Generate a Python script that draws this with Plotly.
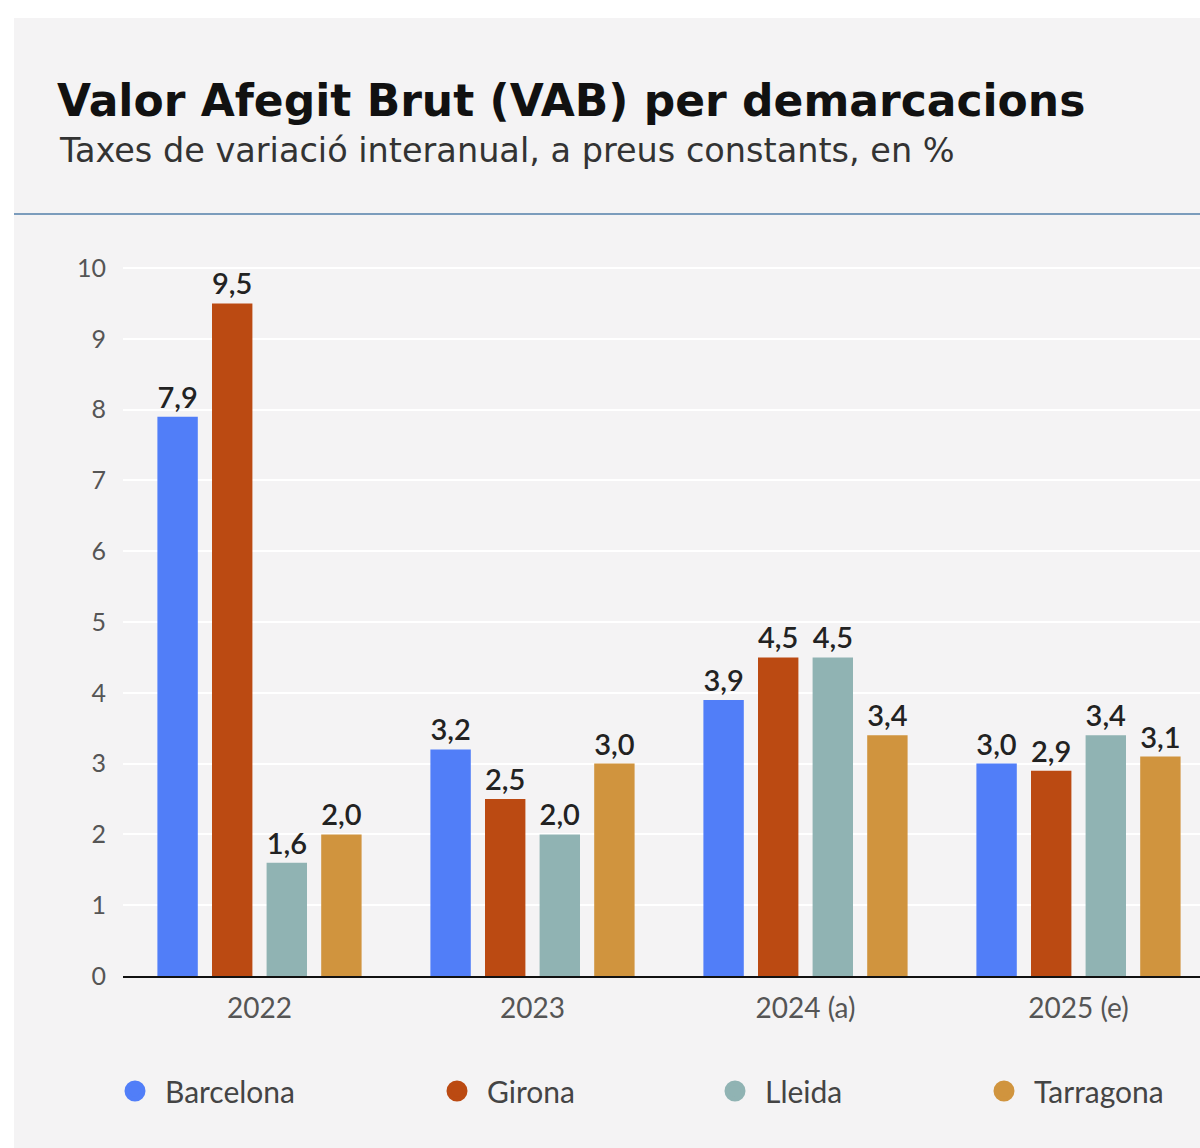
import plotly.graph_objects as go

# ---- data ----
categories = ["2022", "2023", "2024 (a)", "2025 (e)"]
barcelona = [7.9, 3.2, 3.9, 3.0]
girona = [9.5, 2.5, 4.5, 2.9]
lleida = [1.6, 2.0, 4.5, 3.4]
tarragona = [2.0, 3.0, 3.4, 3.1]
series_names = ["Barcelona", "Girona", "Lleida", "Tarragona"]
y_ticks = [0, 1, 2, 3, 4, 5, 6, 7, 8, 9, 10]

title_text = "Valor Afegit Brut (VAB) per demarcacions"
subtitle_text = "Taxes de variació interanual, a preus constants, en %"

# ---- style ----
colors = ["#517ef8", "#bb4a12", "#90b3b3", "#d0943e"]
FONT = "Lato"
TFONT = "DejaVu Sans"
BG = "#f4f3f4"

W, H = 1200, 1148
ML, MR, MT, MB = 123, 0, 240, 172
PW = W - ML - MR
PH = H - MT - MB

fig = go.Figure()
values = [barcelona, girona, lleida, tarragona]
legend_ids = ["legend", "legend2", "legend3", "legend4"]

for name, vals, col in zip(series_names, values, colors):
    fig.add_trace(go.Bar(
        x=categories, y=vals, name=name,
        marker=dict(color=col, line=dict(width=0)),
        texttemplate="%{y:.1f}", textposition="outside",
        textfont=dict(family=FONT, size=29, color="#222222", weight=600),
        constraintext="none", cliponaxis=False,
        showlegend=False, hoverinfo="skip",
    ))

# legend entries (circle symbols)
for name, col, lid in zip(series_names, colors, legend_ids):
    fig.add_trace(go.Scatter(
        x=[None], y=[None], mode="markers", name=name,
        marker=dict(symbol="circle", size=16, color=col,
                    line=dict(color=col, width=5)),
        showlegend=True, legend=lid, hoverinfo="skip",
    ))

def px_x(px):
    return (px - ML) / PW

def px_y(py):
    return (H - MB - py) / PH

legend_left_px = [105, 427, 705, 974]
legend_common = dict(
    orientation="h", yanchor="middle", xanchor="left",
    bgcolor="rgba(0,0,0,0)", borderwidth=0, itemwidth=50,
    font=dict(family=FONT, size=30, color="#444444"),
)
layout_legends = {}
for lid, lx in zip(legend_ids, legend_left_px):
    layout_legends[lid] = dict(legend_common, x=px_x(lx), y=px_y(1091))

fig.update_layout(
    width=W, height=H,
    margin=dict(l=ML, r=MR, t=MT, b=MB, pad=0),
    paper_bgcolor="white",
    plot_bgcolor="rgba(0,0,0,0)",
    separators=", ",
    barmode="group",
    bargap=0.2,
    bargroupgap=0.26,
    font=dict(family=FONT),
    title=dict(
        text="<b>" + title_text + "</b>",
        font=dict(family=TFONT, size=44, color="#111111"),
        xref="container", x=57 / W, xanchor="left",
        yref="container", y=1 - 101 / H, yanchor="middle",
    ),
    xaxis=dict(
        type="category",
        range=[-0.5, -0.5 + PW / 273.0],
        showgrid=False, zeroline=False,
        showline=True, linecolor="#111111", linewidth=2,
        ticks="", tickfont=dict(family=FONT, size=28, color="#555555"),
        ticklabelstandoff=6,
    ),
    yaxis=dict(
        range=[0, PH / 70.8],
        tickvals=y_ticks,
        ticktext=[str(t) for t in y_ticks],
        showgrid=True, gridcolor="white", gridwidth=2,
        zeroline=False, showline=False, ticks="",
        tickfont=dict(family=FONT, size=25, color="#555555"),
        ticklabelstandoff=16,
    ),
    annotations=[dict(
        text=subtitle_text, showarrow=False,
        xref="paper", yref="paper",
        x=px_x(57), xanchor="left",
        y=px_y(150), yanchor="middle",
        font=dict(family=TFONT, size=33.5, color="#333333"),
    )],
    shapes=[
        dict(type="rect", xref="paper", yref="paper", layer="below",
             x0=px_x(14), x1=px_x(1200), y0=px_y(18), y1=px_y(1148),
             fillcolor=BG, line=dict(width=0)),
        dict(type="line", xref="paper", yref="paper", layer="above",
             x0=px_x(14), x1=px_x(1200), y0=px_y(214), y1=px_y(214),
             line=dict(color="#7b9cbc", width=2)),
    ],
    **layout_legends,
)

fig.write_html("out.html", config={"displayModeBar": False})
